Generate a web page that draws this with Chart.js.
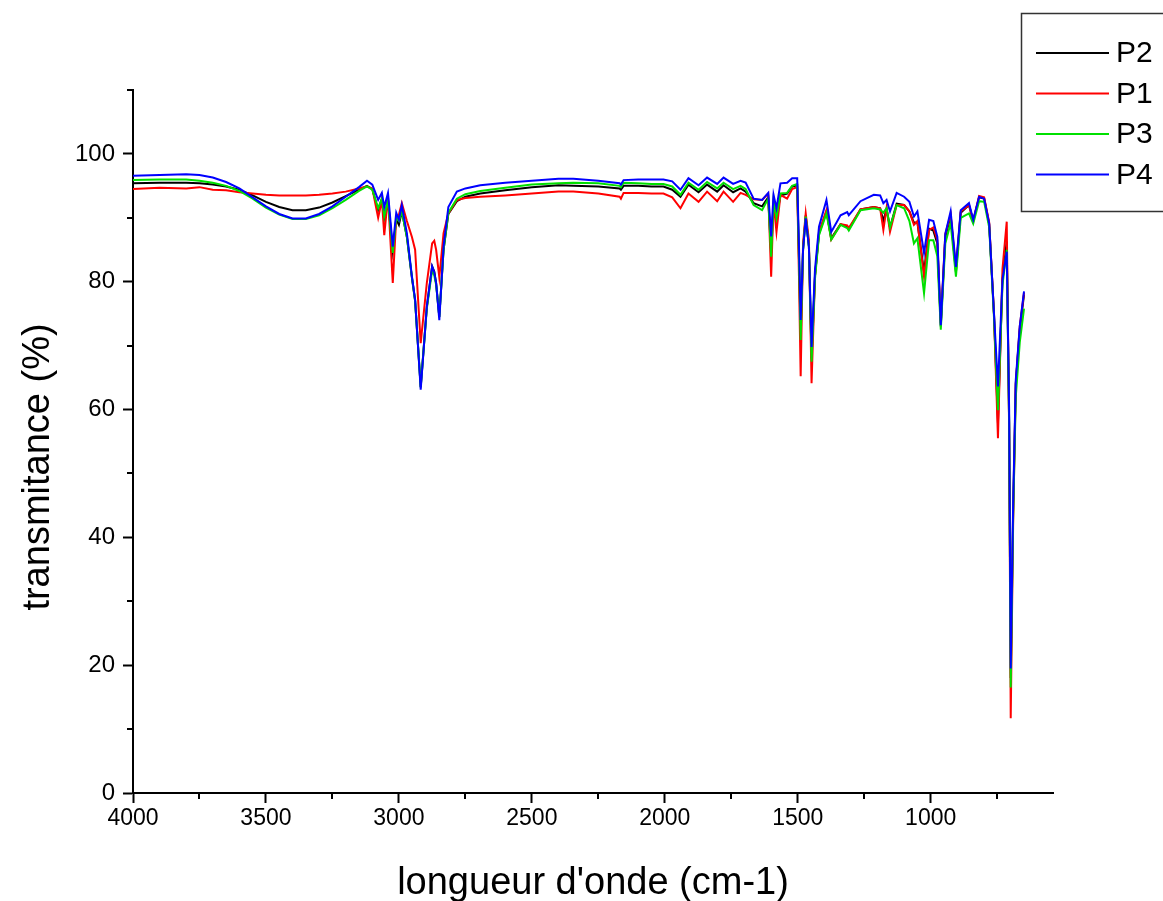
<!DOCTYPE html>
<html>
<head>
<meta charset="utf-8">
<script src="https://cdn.jsdelivr.net/npm/chart.js@4"></script>
<style>
  body { margin: 0; background: #fff; }
</style>
</head>
<body>
<canvas id="chart" width="1163" height="901"></canvas>
<script>
// wavenumbers (cm-1) shared by every spectrum
const wavenumbers = [4000, 3900, 3800, 3750, 3700, 3650, 3600, 3550, 3500, 3450, 3400, 3350, 3300, 3250, 3200, 3150, 3120, 3100, 3078, 3064,
  3055, 3041, 3023, 3010, 3000, 2989, 2970, 2951, 2939, 2918, 2895, 2875, 2867, 2860, 2848, 2832, 2814, 2782, 2750, 2694,
  2600, 2500, 2400, 2344, 2250, 2170, 2165, 2155, 2100, 2050, 2005, 1972, 1941, 1911, 1873, 1841, 1803, 1779, 1743, 1715,
  1696, 1666, 1634, 1611, 1600, 1591, 1580, 1565, 1540, 1521, 1502, 1495, 1489, 1480, 1470, 1458, 1448, 1435, 1420, 1392,
  1374, 1339, 1314, 1308, 1264, 1214, 1190, 1178, 1166, 1153, 1128, 1100, 1080, 1063, 1050, 1025, 1006, 990, 975, 962,
  945, 925, 905, 887, 856, 840, 818, 799, 780, 762, 747, 730, 714, 705, 699, 690, 680, 665, 649];

const p2 = [95.4, 95.5, 95.5, 95.4, 95.2, 94.9, 94.4, 93.5, 92.5, 91.7, 91.2, 91.2, 91.6, 92.4, 93.4, 94.4, 95.0, 94.5, 91.2, 93.0,
  90.0, 92.8, 84.8, 89.8, 88.9, 91.0, 87.0, 80.6, 77.0, 63.5, 76.0, 82.4, 81.6, 79.8, 74.5, 85.0, 90.6, 92.6, 93.3, 93.8,
  94.3, 94.8, 95.1, 95.0, 94.9, 94.6, 94.4, 95.0, 95.0, 94.9, 94.9, 94.4, 93.3, 95.2, 94.0, 95.2, 94.1, 95.1, 94.0, 94.6,
  94.1, 92.3, 91.8, 93.2, 84.5, 92.5, 90.0, 93.5, 93.8, 94.9, 95.1, 83.0, 72.0, 85.0, 90.4, 85.5, 68.0, 81.0, 87.5, 91.0,
  86.8, 89.0, 88.6, 88.2, 91.3, 91.7, 91.5, 89.5, 91.4, 88.5, 92.2, 92.0, 91.0, 89.2, 89.3, 81.5, 88.3, 88.0, 86.0, 73.0,
  87.0, 90.3, 81.5, 90.8, 92.0, 89.5, 93.2, 93.0, 89.0, 75.0, 57.9, 80.5, 86.3, 58.0, 18.0, 44.0, 64.0, 72.5, 78.0];

const p1 = [94.5, 94.7, 94.6, 94.8, 94.4, 94.3, 94.0, 93.8, 93.6, 93.5, 93.5, 93.5, 93.6, 93.8, 94.1, 94.6, 94.9, 94.6, 90.0, 92.8,
  87.3, 93.3, 79.8, 90.0, 90.5, 92.3, 89.5, 87.0, 85.0, 70.4, 79.8, 86.0, 86.4, 85.0, 80.7, 87.6, 90.7, 92.8, 93.1, 93.3,
  93.5, 93.8, 94.1, 94.1, 93.8, 93.3, 93.0, 93.9, 93.9, 93.8, 93.8, 93.2, 91.5, 93.8, 92.5, 94.1, 92.6, 94.1, 92.5, 93.9,
  93.6, 92.9, 92.8, 93.8, 80.8, 92.5, 87.8, 93.6, 93.0, 94.5, 94.8, 80.0, 65.2, 86.0, 90.7, 86.5, 64.1, 81.0, 87.8, 91.2,
  86.6, 89.0, 88.8, 88.4, 91.3, 91.7, 91.5, 88.1, 91.5, 87.8, 92.0, 92.0, 91.0, 88.9, 89.5, 80.8, 88.1, 88.5, 86.5, 73.5,
  87.5, 90.5, 82.0, 91.0, 92.0, 89.5, 93.4, 93.2, 89.3, 75.0, 55.5, 82.0, 89.4, 57.0, 11.7, 42.0, 64.0, 73.0, 78.3];

const p3 = [95.9, 96.0, 96.0, 95.8, 95.5, 95.0, 94.2, 93.0, 91.6, 90.5, 89.8, 89.8, 90.4, 91.5, 92.8, 94.2, 94.9, 94.4, 91.5, 93.0,
  90.2, 92.8, 84.5, 90.0, 89.5, 91.0, 87.0, 80.8, 77.0, 63.5, 75.8, 81.8, 81.0, 79.5, 74.5, 85.0, 90.8, 93.0, 93.7, 94.2,
  94.7, 95.2, 95.4, 95.5, 95.4, 95.0, 94.8, 95.5, 95.4, 95.3, 95.3, 94.9, 93.6, 95.5, 94.4, 95.6, 94.6, 95.5, 94.5, 95.0,
  94.5, 92.0, 91.2, 93.0, 83.9, 92.5, 90.0, 93.8, 93.9, 95.0, 95.3, 83.0, 70.9, 85.0, 90.2, 85.5, 67.5, 80.5, 87.3, 90.7,
  86.6, 88.9, 88.4, 88.0, 91.2, 91.5, 91.3, 90.8, 91.5, 88.5, 92.0, 91.5, 89.5, 86.0, 86.8, 78.2, 86.5, 86.5, 84.0, 72.5,
  86.0, 89.2, 80.8, 90.0, 90.7, 89.1, 92.6, 92.5, 88.5, 74.5, 59.9, 79.5, 85.0, 58.0, 16.5, 43.0, 62.0, 70.5, 75.8];

const p4 = [96.6, 96.7, 96.8, 96.7, 96.3, 95.6, 94.6, 93.2, 91.8, 90.6, 89.9, 89.9, 90.6, 91.8, 93.3, 94.8, 95.8, 95.2, 92.8, 93.9,
  91.7, 93.9, 85.5, 90.8, 89.7, 92.0, 87.6, 80.8, 77.2, 63.1, 76.1, 82.4, 81.5, 79.8, 74.0, 85.5, 91.7, 94.1, 94.6, 95.1,
  95.5, 95.8, 96.1, 96.1, 95.8, 95.4, 95.2, 95.9, 96.0, 96.0, 96.0, 95.7, 94.4, 96.2, 95.1, 96.3, 95.3, 96.3, 95.3, 95.8,
  95.5, 93.0, 92.8, 93.9, 87.1, 93.6, 91.5, 95.4, 95.5, 96.2, 96.2, 85.0, 74.0, 85.0, 89.9, 85.5, 69.8, 82.0, 88.6, 92.8,
  87.8, 90.4, 90.9, 90.4, 92.6, 93.6, 93.5, 92.3, 92.8, 91.0, 93.9, 93.3, 92.5, 90.2, 91.0, 84.5, 89.7, 89.5, 87.0, 73.2,
  87.5, 91.0, 82.3, 91.2, 92.3, 89.7, 93.3, 93.0, 89.1, 75.1, 63.6, 80.3, 84.7, 60.0, 19.5, 45.0, 64.6, 73.0, 78.5];

const seriesNames = ["P2", "P1", "P3", "P4"];
const seriesColors = ["#000000", "#ff0000", "#00e000", "#0000ff"];
const seriesValues = [p2, p1, p3, p4];
const drawOrder = [3, 2, 1, 0]; // lower = drawn on top (blue on top)

const xTicks = [4000, 3500, 3000, 2500, 2000, 1500, 1000];
const xMinorTicks = [3750, 3250, 2750, 2250, 1750, 1250, 750];
const yTicks = [0, 20, 40, 60, 80, 100];
const yMinorTicks = [10, 30, 50, 70, 90, 110];

const FONT = "'Liberation Sans', Arial, sans-serif";

const datasets = seriesNames.map((name, i) => ({
  label: name,
  data: wavenumbers.map((w, j) => ({ x: w, y: seriesValues[i][j] })),
  borderColor: seriesColors[i],
  borderWidth: 2,
  pointRadius: 0,
  tension: 0,
  fill: false,
  order: drawOrder[i]
}));

// minor ticks, axis titles and the boxed legend
const extras = {
  id: "extras",
  afterDraw(chart) {
    const ctx = chart.ctx;
    const xs = chart.scales.x;
    const ys = chart.scales.y;
    const area = chart.chartArea;
    ctx.save();
    ctx.strokeStyle = "#000";
    ctx.lineWidth = 2;
    xMinorTicks.forEach(v => {
      const px = Math.round(xs.getPixelForValue(v));
      ctx.beginPath();
      ctx.moveTo(px, area.bottom);
      ctx.lineTo(px, area.bottom + 6);
      ctx.stroke();
    });
    yMinorTicks.forEach(v => {
      const py = Math.round(ys.getPixelForValue(v));
      ctx.beginPath();
      ctx.moveTo(area.left, py);
      ctx.lineTo(area.left - 6, py);
      ctx.stroke();
    });

    // axis titles
    ctx.fillStyle = "#000";
    ctx.font = "38px " + FONT;
    ctx.textAlign = "center";
    ctx.textBaseline = "alphabetic";
    ctx.fillText("longueur d'onde (cm-1)", (area.left + area.right) / 2, 894);
    ctx.save();
    ctx.translate(49, 467);
    ctx.rotate(-Math.PI / 2);
    ctx.fillText("transmitance (%)", 0, 0);
    ctx.restore();

    // legend
    ctx.lineWidth = 1.5;
    ctx.strokeStyle = "#333";
    ctx.strokeRect(1021.5, 13.5, 160, 198);
    ctx.font = "30px " + FONT;
    ctx.textAlign = "left";
    ctx.textBaseline = "middle";
    seriesNames.forEach((name, i) => {
      const y = 53 + i * 40.5;
      ctx.strokeStyle = seriesColors[i];
      ctx.lineWidth = 2;
      ctx.beginPath();
      ctx.moveTo(1036, y);
      ctx.lineTo(1109, y);
      ctx.stroke();
      ctx.fillStyle = "#000";
      ctx.fillText(name, 1116, y + 1);
    });
    ctx.restore();
  }
};

new Chart(document.getElementById("chart"), {
  type: "line",
  data: { datasets },
  options: {
    responsive: false,
    animation: false,
    layout: { padding: { top: 90, right: 110, left: 0, bottom: 0 } },
    plugins: { legend: { display: false }, tooltip: { enabled: false } },
    scales: {
      x: {
        type: "linear",
        reverse: true,
        min: 540,
        max: 4000,
        afterBuildTicks: s => { s.ticks = xTicks.map(v => ({ value: v })); },
        afterFit: s => { s.height = 108; },
        border: { display: true, color: "#000", width: 2 },
        grid: { display: true, drawOnChartArea: false, drawTicks: true, tickLength: 10, tickColor: "#000", tickWidth: 2 },
        ticks: { color: "#000", font: { family: FONT, size: 23 }, padding: 2, maxRotation: 0, autoSkip: false,
          callback: v => String(v) }
      },
      y: {
        type: "linear",
        min: 0,
        max: 110,
        afterBuildTicks: s => { s.ticks = yTicks.map(v => ({ value: v })); },
        afterFit: s => { s.width = 133; },
        border: { display: true, color: "#000", width: 2 },
        grid: { display: true, drawOnChartArea: false, drawTicks: true, tickLength: 10, tickColor: "#000", tickWidth: 2 },
        ticks: { color: "#000", font: { family: FONT, size: 24 }, padding: 8, autoSkip: false,
          callback: v => String(v) }
      }
    }
  },
  plugins: [extras]
});
</script>
</body>
</html>
